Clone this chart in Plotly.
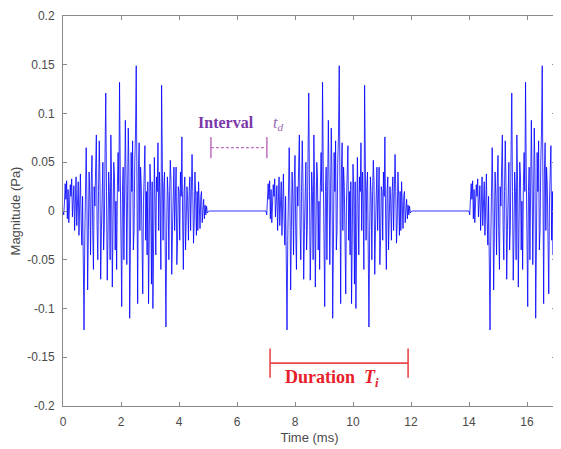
import plotly.graph_objects as go

# one burst of the pressure signal, sampled every 0.025 ms (Pa)
sample_ms = 0.025
burst = [
    0.0, -0.004, 0.008, 0.028, 0.012, 0.031, -0.008, 0.022, -0.012, 0.006,
    0.027, 0.015, 0.033, -0.006, 0.018, 0.026, -0.02, 0.01, 0.035, -0.015,
    0.02, 0.03, -0.025, 0.012, 0.038, -0.01, -0.035, 0.015, -0.05, -0.122,
    -0.03, 0.02, 0.065, 0.01, -0.081, -0.02, 0.04, 0.015, -0.045, 0.03,
    0.057, -0.02, -0.06, 0.025, 0.005, 0.045, 0.078, -0.015, -0.05, 0.02,
    0.072, 0.03, -0.07, -0.02, 0.035, 0.05, -0.04, -0.015, 0.06, 0.121,
    0.02, -0.071, -0.03, 0.04, 0.02, -0.05, 0.078, 0.03, -0.078, -0.02,
    0.05, 0.035, -0.04, 0.01, -0.06, 0.025, 0.06, 0.02, 0.132, 0.04,
    -0.03, -0.098, 0.02, 0.045, -0.05, 0.015, 0.093, 0.03, -0.055, 0.01,
    0.085, 0.04, -0.11, -0.035, 0.06, 0.02, 0.072, -0.04, -0.02, 0.05,
    0.08, 0.149, -0.03, -0.095, 0.04, 0.07, -0.02, 0.045, 0.025, -0.05,
    -0.085, 0.01, 0.04, 0.067, -0.03, 0.02, -0.045, 0.03, -0.095, -0.02,
    0.048, 0.02, -0.075, 0.03, -0.10, -0.03, 0.055, 0.01, -0.045, 0.035,
    0.02, 0.07, -0.02, 0.04, 0.01, -0.06, 0.129, 0.05, -0.03, 0.025,
    0.04, -0.04, -0.119, -0.02, 0.035, 0.015, -0.05, 0.02, 0.052, 0.03,
    -0.065, -0.02, 0.03, 0.045, -0.02, 0.01, 0.045, -0.055, -0.03, 0.025,
    0.02, -0.03, 0.04, 0.015, 0.076, -0.01, -0.06, 0.02, 0.035, -0.04,
    -0.015, 0.025, 0.01, -0.03, 0.02, 0.035, -0.02, 0.01, 0.058, 0.02,
    -0.033, -0.01, 0.04, 0.015, -0.025, 0.02, -0.02, 0.03, 0.005, -0.018,
    0.015, 0.02, -0.012, 0.008, 0.012, -0.008, 0.006, -0.004, 0.005, -0.002,
    0.0,
]
burst_onsets_ms = [0, 7, 14]
end_ms = 17

interval_ms = (5.1, 7.03)
interval_y = 0.065
duration_ms = (7.14, 11.9)
duration_y = -0.156

y_ticks = [0.2, 0.15, 0.1, 0.05, 0, -0.05, -0.1, -0.15, -0.2]
y_tick_text = ["0.2", "0.15", "0.1", "0.05", "0", "-0.05", "-0.1", "-0.15", "-0.2"]
x_ticks = [0, 2, 4, 6, 8, 10, 12, 14, 16]

# place the burst at each onset on a common time grid
n = round(end_ms / sample_ms) + 1
signal = [0.0] * n
for onset in burst_onsets_ms:
    start = round(onset / sample_ms)
    for i, v in enumerate(burst):
        if start + i < n:
            signal[start + i] += v
time = [i * sample_ms for i in range(n)]

fig = go.Figure()
fig.add_trace(go.Scatter(
    x=time, y=signal, mode="lines",
    line=dict(color="rgb(0,0,255)", width=0.8),
    showlegend=False,
))

# interval bracket
purple = "#c070c4"
fig.add_shape(type="line", x0=interval_ms[0], x1=interval_ms[1], y0=interval_y, y1=interval_y,
              line=dict(color=purple, width=1.3, dash="3px,2px"))
for xv in interval_ms:
    fig.add_shape(type="line", x0=xv, x1=xv, y0=interval_y - 0.011, y1=interval_y + 0.011,
                  line=dict(color=purple, width=1.5))

# duration bracket
red = "#e8484c"
fig.add_shape(type="line", x0=duration_ms[0], x1=duration_ms[1], y0=duration_y, y1=duration_y,
              line=dict(color=red, width=1.6))
for xv in duration_ms:
    fig.add_shape(type="line", x0=xv, x1=xv, y0=duration_y - 0.015, y1=duration_y + 0.015,
                  line=dict(color=red, width=1.6))

fig.add_annotation(
    x=6.14, y=0.090, xref="x", yref="y", showarrow=False,
    text="<b>Interval</b>&nbsp;&nbsp;&nbsp;&nbsp;&nbsp;<span style='color:#9466b4'><i>t<sub>d</sub></i></span>",
    font=dict(family="Liberation Serif", size=16, color="#7a38a8"),
)
fig.add_annotation(
    x=9.26, y=-0.172, xref="x", yref="y", showarrow=False,
    text="<b>Duration</b>&nbsp;&nbsp;<b><i>T<sub>i</sub></i></b>",
    font=dict(family="Liberation Serif", size=18, color="#e8202a"),
)

axis_style = dict(
    showline=True, linecolor="#8a8a8a", linewidth=1, mirror="ticks",
    ticks="inside", ticklen=4, tickcolor="#8a8a8a",
    showgrid=False, zeroline=False, automargin=False, ticklabelstandoff=5,
    tickfont=dict(family="Liberation Sans", size=12, color="#4a4a4a"),
)

# page body adds an 8px margin, so the figure is sized to fit inside it
fig.update_layout(
    width=553, height=441,
    margin=dict(l=55, r=5, t=8, b=43),
    plot_bgcolor="white", paper_bgcolor="white",
    xaxis=dict(range=[0, end_ms], tickvals=x_ticks,
               title=dict(text="Time (ms)", standoff=4,
                          font=dict(family="Liberation Sans", size=13, color="#4a4a4a")),
               **axis_style),
    yaxis=dict(range=[-0.2, 0.2], tickvals=y_ticks, ticktext=y_tick_text,
               title=dict(text="Magnitude (Pa)", standoff=9,
                          font=dict(family="Liberation Sans", size=13, color="#4a4a4a")),
               **axis_style),
)

fig.write_html("out.html")
